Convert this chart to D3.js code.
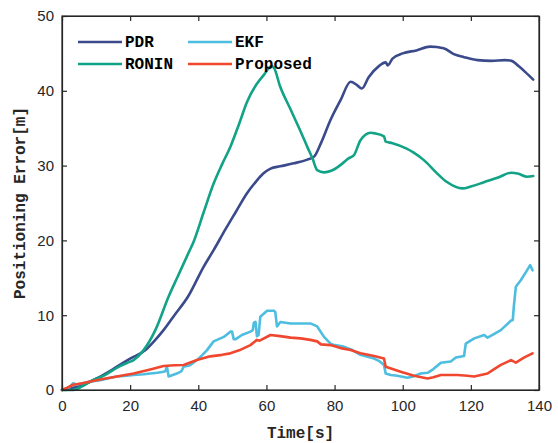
<!DOCTYPE html>
<html><head><meta charset="utf-8">
<script src="https://cdn.jsdelivr.net/npm/d3@7"></script>
<style>body{margin:0;background:#fff}svg{display:block}</style>
</head><body><svg id="c" width="558" height="443"></svg>
<script>
const seriesNames = ["PDR","EKF","RONIN","Proposed"];
const seriesColors = ["#3b4a8b","#4dbde0","#12a286","#f0472f"];
const xTicks = [0,20,40,60,80,100,120,140];
const yTicks = [0,10,20,30,40,50];

const pdrTime = [0,5,10,15,20,24.4,27,29.8,33,37,41.6,44.5,48,51,54.3,57,59,61.2,64,68,72,74,76,78.8,81.8,84.7,86.5,88,90,93,95,95.6,97,100,104,108,112,115,118,122,126,130,132,134,136,138.3];
const pdrError = [0,0.5,1.5,2.8,4.2,5.3,6.5,8,10,12.5,16.5,18.7,21.5,23.8,26.3,27.9,28.9,29.6,29.9,30.3,30.8,31.2,33,36.1,38.8,41.2,40.8,40.3,41.8,43.3,43.8,43.4,44.3,45,45.4,45.9,45.7,44.9,44.5,44.1,44.0,44.1,44.0,43.3,42.5,41.5];

const roninTime = [0,3,5.8,9,12.6,16.6,19,21,23.9,27.4,31.3,34,37.1,38.6,41.6,44.5,47,49.4,52,54.3,57,59.2,61.5,62.3,64,67,70,72,73.5,74.9,76.9,79,81.8,84.2,85.7,87.6,90.6,92,94.5,95,97,101,103,106.3,110,113,117.5,120,124,128,131.8,134,136.5,138.3];
const roninError = [0,0,0.45,1.3,2,3.1,3.6,4,5.3,8,12.5,15.2,18.3,19.8,23.8,27.6,30.2,32.5,35.6,38.5,40.8,42.1,43.3,43,40.6,37.6,34.6,32.5,31,29.4,29.1,29.3,30.1,31,31.4,33.4,34.4,34.3,33.9,33.2,33.0,32.3,31.8,30.7,29,27.8,26.95,27.2,27.8,28.4,29.05,28.9,28.5,28.6];

const ekfTime = [0,2,3.3,4.3,6,8,11.2,14,16.1,19,21,24,25.9,28,29.8,30.3,30.8,31.3,33.7,35,35.7,37.6,39.6,41,42.5,44.5,45.5,47.5,49.4,49.9,50.4,51,52.8,55.3,56,56.3,56.8,57.2,57.7,58.2,58.7,60.2,62.2,62.6,63.1,64.1,67.1,70,72.9,74.9,76.9,78.8,80,82.7,85,87.6,90,91.6,93,94.5,95,96.5,98.4,101.4,103,105.3,107.3,109,111.2,114.1,115.6,118,118.5,121,123.9,124.9,126.5,128.8,131.8,132.3,132.6,133.2,134.7,136.2,137.4,138.1];
const ekfError = [0,0.3,0.9,0.7,0.9,1.1,1.3,1.6,1.8,1.9,2.0,2.1,2.2,2.3,2.45,2.5,3.1,1.8,2.2,2.5,3.1,3.3,4.0,4.6,5.3,6.5,6.7,7.1,7.8,7.8,6.8,6.8,7.35,7.8,8.0,9.0,9.1,7.2,7.35,9.8,10.0,10.6,10.6,10.4,8.5,9.1,8.9,8.9,8.9,8.5,7.1,6.2,6.0,5.8,5.4,4.7,4.4,4.2,3.9,3.35,2.2,2.0,1.9,1.65,1.8,2.2,2.3,2.8,3.65,3.8,4.35,4.55,6.2,6.9,7.35,7.0,7.4,8.0,9.3,9.35,11.1,13.8,14.7,15.8,16.7,16.0];

const propTime = [0,1.5,3.3,6,8,11.2,16.1,21,25.9,29.8,33,35.7,39.6,43.5,47,49.4,52,55.3,57.2,58,61.2,64,67.1,70,72.9,74.9,76,78.8,81.8,84.7,87.6,91.6,94.5,95,97,99.4,103.3,107.3,109,111.2,116.1,119,121,124.9,126.5,128.8,131.8,133.2,135.7,138.1];
const propError = [0,0.3,0.7,0.9,1.1,1.4,1.8,2.2,2.75,3.2,3.3,3.35,4.0,4.5,4.7,4.9,5.3,6.0,6.7,6.6,7.35,7.2,7.0,6.9,6.7,6.5,6.1,6.0,5.6,5.35,4.9,4.55,4.2,3.1,2.8,2.45,1.9,1.55,1.7,2.0,2.0,1.9,1.8,2.2,2.7,3.35,4.0,3.65,4.35,4.9];

const allTimes = [pdrTime, ekfTime, roninTime, propTime];
const allErrors = [pdrError, ekfError, roninError, propError];

const svg = d3.select("#c");
const L = 62, R = 539, T = 16, B = 390;
const x = d3.scaleLinear().domain([0,140]).range([L,R]);
const y = d3.scaleLinear().domain([0,50]).range([B,T]);
const axisCol = "#262626";
const tickFont = "'Liberation Sans', Arial, Helvetica, sans-serif";
const monoFont = "'Liberation Mono', 'Courier New', Courier, monospace";

// lines
const curves = [d3.curveMonotoneX, d3.curveLinear, d3.curveMonotoneX, d3.curveLinear];
allTimes.forEach((ts, i) => {
  const pts = ts.map((t, j) => [t, allErrors[i][j]]);
  const line = d3.line().x(d => x(d[0])).y(d => y(d[1])).curve(curves[i]);
  svg.append("path").datum(pts).attr("d", line)
    .attr("fill", "none").attr("stroke", seriesColors[i])
    .attr("stroke-width", 2.6).attr("stroke-linejoin", "round").attr("stroke-linecap", "round");
});

// axes
const xb = svg.append("g").attr("transform", `translate(0,${B})`)
  .call(d3.axisBottom(x).tickValues(xTicks).tickSizeInner(-5).tickSizeOuter(0).tickPadding(10));
const xt = svg.append("g").attr("transform", `translate(0,${T})`)
  .call(d3.axisTop(x).tickValues(xTicks).tickSizeInner(-5).tickSizeOuter(0).tickFormat(""));
const yl = svg.append("g").attr("transform", `translate(${L},0)`)
  .call(d3.axisLeft(y).tickValues(yTicks).tickSizeInner(-5).tickSizeOuter(0).tickPadding(8));
const yr = svg.append("g").attr("transform", `translate(${R},0)`)
  .call(d3.axisRight(y).tickValues(yTicks).tickSizeInner(-5).tickSizeOuter(0).tickFormat(""));
[xb, xt, yl, yr].forEach(g => {
  g.select(".domain").attr("stroke", axisCol).attr("stroke-width", 1.2);
  g.selectAll(".tick line").attr("stroke", axisCol).attr("stroke-width", 1.2);
  g.selectAll(".tick text").attr("fill", axisCol).attr("font-size", 15).attr("font-family", tickFont);
});
svg.append("rect").attr("x", L).attr("y", T).attr("width", R-L).attr("height", B-T)
  .attr("fill", "none").attr("stroke", axisCol).attr("stroke-width", 1.2);

// titles
svg.append("text").attr("x", (L+R)/2).attr("y", 438).attr("text-anchor", "middle")
  .attr("font-family", monoFont).attr("font-weight", "bold").attr("font-size", 16).attr("fill", axisCol)
  .text("Time[s]");
svg.append("text").attr("transform", `translate(25,${(T+B)/2}) rotate(-90)`).attr("text-anchor", "middle")
  .attr("font-family", monoFont).attr("font-weight", "bold").attr("font-size", 16).attr("fill", axisCol)
  .text("Positioning Error[m]");

// legend
const legPos = [[78,42],[188,42],[78,64],[188,64]];
seriesNames.forEach((n, i) => {
  const [lx, ly] = legPos[i];
  svg.append("line").attr("x1", lx).attr("x2", lx+44).attr("y1", ly).attr("y2", ly)
    .attr("stroke", seriesColors[i]).attr("stroke-width", 2.6);
  svg.append("text").attr("x", lx+47).attr("y", ly+5)
    .attr("font-family", monoFont).attr("font-weight", "bold").attr("font-size", 16).attr("fill", "#000")
    .text(n);
});
</script></body></html>
